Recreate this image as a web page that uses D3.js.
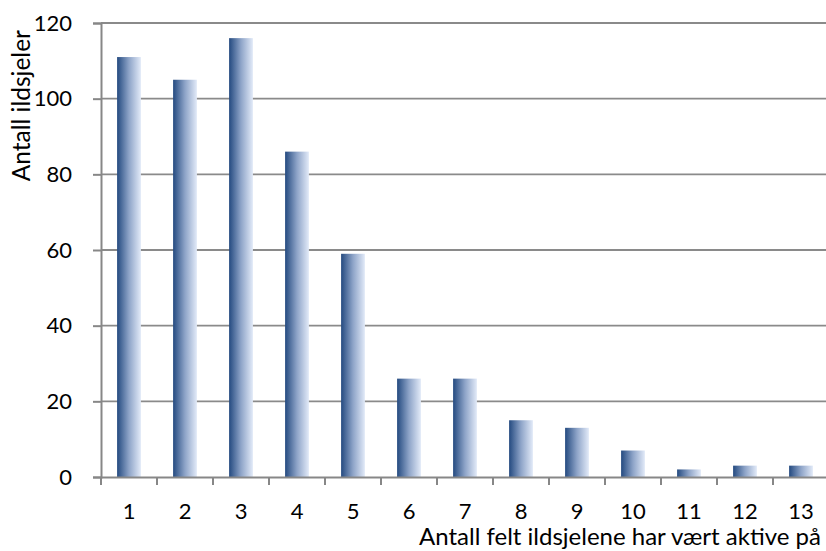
<!DOCTYPE html>
<html>
<head>
<meta charset="utf-8">
<script src="https://cdn.jsdelivr.net/npm/d3@7"></script>
<style>
	body { margin: 0; background: #fff; }
	text { font-family: Lato, "Open Sans", sans-serif; fill: #000; }
</style>
</head>
<body>
<svg id="chart"></svg>
<script>
let categories	= ['1', '2', '3', '4', '5', '6', '7', '8', '9', '10', '11', '12', '13'];
let values		= [111, 105, 116, 86, 59, 26, 26, 15, 13, 7, 2, 3, 3];
let yTicks		= [0, 20, 40, 60, 80, 100, 120];

let canvasWidth		= 826;
let canvasHeight	= 551;
let margin			= { top: 23, right: -3, bottom: 74, left: 101 };
let width			= canvasWidth - margin.left - margin.right;
let height			= canvasHeight - margin.top - margin.bottom;

let root = d3.select('#chart')
	.attr('width', canvasWidth)
	.attr('height', canvasHeight);

let grad = root.append('defs').append('linearGradient')
	.attr('id', 'bar-grad')
	.attr('x1', '0%').attr('x2', '100%')
	.attr('y1', '0%').attr('y2', '0%');
grad.append('stop').attr('offset', '0%').attr('stop-color', '#244a80');
grad.append('stop').attr('offset', '50%').attr('stop-color', '#8ea4c8');
grad.append('stop').attr('offset', '100%').attr('stop-color', '#e2eaf8');

let svg = root.append('g')
	.attr('transform', 'translate(' + margin.left + ',' + margin.top + ')');

let x = d3.scaleBand().domain(categories).range([0, width]).paddingInner(0.575).paddingOuter(0.2875);
let xTicksScale = d3.scaleBand().domain(categories).range([0, width]);
let y = d3.scaleLinear().domain([0, 120]).range([height, 0]);

// gridlines
svg.append('g').selectAll('line').data(yTicks.filter((o) => o > 0)).enter()
	.append('line')
		.attr('x1', 0).attr('x2', width)
		.attr('y1', (o) => y(o)).attr('y2', (o) => y(o))
		.attr('stroke', '#8a8a8a')
		.attr('stroke-width', 1.8);

// bars
svg.append('g').selectAll('rect').data(values).enter()
	.append('rect')
		.attr('x', (o, i) => x(categories[i]))
		.attr('y', (o) => y(o))
		.attr('width', x.bandwidth())
		.attr('height', (o) => height - y(o))
		.attr('fill', 'url(#bar-grad)');

// y axis
let yAxis = svg.append('g')
	.call(d3.axisLeft(y).tickValues(yTicks).tickSize(8).tickPadding(21));
yAxis.select('.domain').attr('stroke', '#878787').attr('stroke-width', 2);
yAxis.selectAll('.tick line').attr('stroke', '#878787').attr('stroke-width', 2);
yAxis.selectAll('.tick text').style('font-size', '22px').style('font-family', 'Lato, sans-serif').attr('fill', '#000');

// x axis
let xAxis = svg.append('g')
	.attr('transform', 'translate(0,' + height + ')')
	.call(d3.axisBottom(xTicksScale).tickSize(0).tickPadding(26));
xAxis.select('.domain').attr('stroke', '#878787').attr('stroke-width', 2);
xAxis.selectAll('.tick text').style('font-size', '22px').style('font-family', 'Lato, sans-serif').attr('fill', '#000');

xAxis.selectAll('.sep').data(categories).enter()
	.append('line')
		.attr('class', 'sep')
		.attr('x1', (o) => xTicksScale(o)).attr('x2', (o) => xTicksScale(o))
		.attr('y1', 0).attr('y2', 8)
		.attr('stroke', '#878787')
		.attr('stroke-width', 2);

// titles
root.append('text')
	.attr('text-anchor', 'end')
	.attr('x', 821)
	.attr('y', 545)
	.style('font-size', '24px')
	.text('Antall felt ildsjelene har vært aktive på');

root.append('text')
	.attr('text-anchor', 'end')
	.attr('transform', 'translate(30,30) rotate(-90)')
	.style('font-size', '24.5px')
	.text('Antall ildsjeler');
</script>
</body>
</html>
